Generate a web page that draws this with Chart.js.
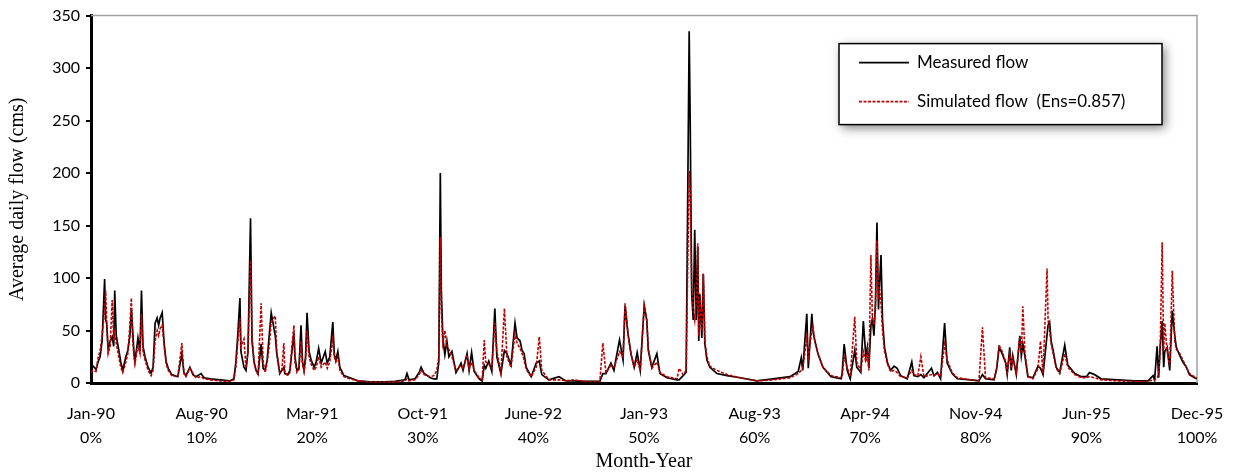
<!DOCTYPE html>
<html>
<head>
<meta charset="utf-8">
<title>Average daily flow</title>
<script src="https://cdn.jsdelivr.net/npm/chart.js@4"></script>
<style>
    html, body { margin: 0; padding: 0; background: #fff; }
    #wrap { width: 1238px; height: 473px; }
</style>
</head>
<body>
<div id="wrap"><canvas id="flowChart" width="1238" height="473"></canvas></div>
<script>
// Record length in days (Jan 1990 - Dec 1995)
const recordDays = 2191;

// Axis labels
const tickDates = ['Jan-90', 'Aug-90', 'Mar-91', 'Oct-91', 'June-92', 'Jan-93', 'Aug-93', 'Apr-94', 'Nov-94', 'Jun-95', 'Dec-95'];
const tickPercents = ['0%', '10%', '20%', '30%', '40%', '50%', '60%', '70%', '80%', '90%', '100%'];

// Day of record for each reading
const days = [
    0, 4, 10, 14, 18, 22, 27, 29, 31, 34, 38, 42, 45, 47, 50, 53, 59, 63, 69, 73,
    77, 80, 82, 85, 87, 91, 93, 97, 100, 103, 107, 113, 119, 123, 127, 131, 134, 137, 141, 145,
    149, 153, 160, 172, 180, 184, 188, 196, 202, 208, 218, 224, 236, 256, 275, 283, 287, 291, 295, 297,
    303, 307, 311, 316, 319, 323, 327, 331, 337, 341, 345, 349, 353, 357, 365, 368, 374, 378, 382, 384,
    390, 394, 398, 402, 404, 408, 412, 416, 419, 422, 425, 428, 432, 436, 442, 446, 451, 456, 464, 468,
    473, 479, 482, 485, 489, 493, 501, 513, 529, 553, 582, 602, 622, 626, 630, 642, 650, 654, 660, 672,
    679, 685, 689, 692, 694, 697, 701, 705, 709, 715, 723, 729, 733, 737, 745, 749, 754, 759, 769, 775,
    779, 782, 788, 794, 800, 804, 812, 819, 824, 832, 840, 844, 850, 854, 858, 862, 872, 882, 888, 893,
    907, 927, 941, 955, 979, 1008, 1014, 1020, 1030, 1036, 1040, 1047, 1054, 1058, 1064, 1070, 1076, 1082, 1088, 1096,
    1101, 1104, 1111, 1121, 1127, 1141, 1161, 1165, 1173, 1179, 1185, 1187, 1190, 1193, 1196, 1199, 1202, 1204, 1206, 1210,
    1213, 1216, 1220, 1226, 1240, 1260, 1286, 1319, 1351, 1385, 1401, 1407, 1410, 1418, 1421, 1428, 1430, 1434, 1440, 1450,
    1466, 1486, 1488, 1492, 1498, 1504, 1513, 1517, 1525, 1530, 1535, 1538, 1541, 1545, 1548, 1551, 1554, 1557, 1560, 1562,
    1565, 1568, 1572, 1578, 1584, 1591, 1597, 1604, 1617, 1626, 1630, 1638, 1644, 1650, 1665, 1670, 1677, 1683, 1691, 1696,
    1706, 1716, 1743, 1759, 1766, 1772, 1789, 1794, 1799, 1805, 1812, 1815, 1820, 1823, 1826, 1833, 1840, 1843, 1846, 1850,
    1856, 1866, 1876, 1881, 1886, 1894, 1896, 1899, 1902, 1906, 1912, 1919, 1929, 1935, 1949, 1962, 1972, 1978, 1988, 2001,
    2034, 2068, 2094, 2104, 2107, 2112, 2115, 2118, 2122, 2125, 2127, 2132, 2137, 2142, 2147, 2150, 2157, 2163, 2170, 2176,
    2186, 2191
];

// Measured flow (cms)
const measuredFlow = [
    18, 16, 13, 20, 25, 40, 99, 60, 57, 32, 40, 44, 35, 88, 45, 37, 20, 12, 25, 31,
    45, 71, 55, 30, 21, 35, 43, 30, 88, 35, 25, 15, 9.5, 15, 57, 62, 55, 62, 67, 37,
    20, 14, 8, 6, 28, 10, 7, 15, 8, 6, 9, 5, 4, 3, 2, 4, 20, 47, 81, 30,
    15, 12, 30, 157, 40, 20, 12, 9, 37, 14, 12, 22, 45, 67, 45, 28, 9, 12, 15, 9,
    8, 12, 30, 48, 25, 12, 14, 55, 20, 12, 25, 67, 30, 22, 15, 20, 33, 19, 30, 19,
    25, 58, 27, 22, 30, 15, 7, 5, 2, 1, 1, 1.5, 3, 9, 3, 4, 10, 15, 9, 5,
    4, 4, 20, 200, 88, 43, 27, 40, 25, 30, 10, 15, 19, 12, 28, 12, 29, 11, 4, 2,
    17, 14, 21, 11, 71, 25, 9, 31, 28, 17, 57, 43, 40, 31, 28, 15, 6, 19, 21, 8,
    3, 6, 2, 2, 1.5, 1.5, 9, 9, 19, 12, 23, 41, 22, 74, 46, 27, 15, 29, 12, 74,
    60, 31, 15, 28, 9, 5, 3, 3, 7, 10, 335, 250, 85, 60, 146, 60, 130, 40, 85, 43,
    104, 38, 22, 15, 9, 7, 5, 2, 4, 6, 11, 24, 12, 66, 14, 66, 50, 40, 28, 15,
    6, 4, 9, 37, 12, 4, 31, 15, 10, 59, 25, 34, 14, 55, 61, 45, 76, 153, 70, 93,
    122, 60, 34, 19, 12, 16, 14, 7, 4, 20, 7, 6, 8, 5, 14, 7, 10, 4, 57, 19,
    9, 4, 3, 2, 8, 4, 3, 13, 34, 28, 19, 8, 34, 12, 26, 8, 45, 26, 37, 26,
    6, 5, 16, 14, 8, 46, 55, 58, 40, 31, 15, 10, 36, 17, 9, 6, 6, 10, 8, 4,
    3, 2, 2, 7, 3, 35, 5, 34, 59, 15, 30, 34, 12, 69, 45, 34, 26, 20, 15, 8,
    5, 4
];

// Simulated flow (cms)
const simulatedFlow = [
    10, 12, 11, 24, 31, 45, 70, 88, 60, 28, 35, 79, 40, 47, 38, 30, 15, 10, 20, 28,
    55, 81, 45, 25, 18, 30, 35, 28, 66, 30, 22, 12, 7, 12, 40, 50, 45, 52, 55, 35,
    18, 12, 7, 6, 38, 9, 6, 14, 9, 5, 6, 4, 3, 2, 1.5, 3, 15, 40, 62, 35,
    42, 14, 30, 117, 45, 20, 11, 8, 76, 20, 10, 20, 35, 58, 64, 30, 10, 12, 38, 10,
    7, 10, 35, 55, 20, 10, 13, 40, 18, 11, 20, 50, 25, 18, 12, 15, 25, 15, 20, 14,
    20, 42, 25, 20, 25, 12, 6, 4, 2, 1, 1, 1, 2, 4, 2, 3, 8, 12, 8, 6,
    7, 12, 25, 139, 70, 38, 50, 35, 32, 25, 12, 15, 17, 14, 27, 13, 20, 12, 5, 3,
    41, 20, 18, 14, 57, 30, 10, 71, 25, 15, 47, 38, 33, 28, 22, 13, 6, 15, 44, 12,
    3, 3, 2, 3, 1.5, 1.5, 38, 10, 17, 15, 20, 30, 25, 76, 46, 27, 15, 22, 12, 73,
    60, 33, 14, 20, 10, 6, 4, 14, 8, 12, 202, 180, 90, 70, 60, 80, 133, 45, 80, 50,
    104, 40, 25, 16, 12, 8, 5, 2, 3, 5, 9, 12, 14, 43, 25, 50, 54, 40, 28, 15,
    7, 5, 6, 25, 15, 6, 63, 20, 12, 30, 20, 30, 12, 122, 60, 55, 70, 136, 80, 90,
    76, 50, 30, 18, 11, 12, 10, 6, 5, 12, 8, 7, 25, 6, 8, 7, 9, 6, 37, 22,
    10, 5, 3, 2, 53, 5, 4, 14, 36, 30, 20, 10, 28, 14, 24, 10, 43, 28, 73, 30,
    6, 4, 14, 40, 9, 109, 60, 50, 38, 28, 14, 9, 28, 15, 8, 5, 5, 6, 5, 3,
    2, 1.5, 1.5, 3, 3, 5, 8, 30, 134, 30, 57, 30, 16, 107, 40, 32, 28, 22, 15, 9,
    6, 5
];

const measuredPoints = days.map((d, i) => ({ x: d, y: measuredFlow[i] }));
const simulatedPoints = days.map((d, i) => ({ x: d, y: simulatedFlow[i] }));

const tickFont = { family: 'Lato', size: 16 };

// Plot frame: grey top and right edges
const plotFrame = {
    id: 'plotFrame',
    beforeDatasetsDraw(chart) {
        const { ctx, chartArea: a } = chart;
        ctx.save();
        ctx.strokeStyle = '#a0a0a0';
        ctx.lineWidth = 1.5;
        ctx.beginPath();
        ctx.moveTo(a.left, a.top);
        ctx.lineTo(a.right, a.top);
        ctx.lineTo(a.right, a.bottom);
        ctx.stroke();
        ctx.restore();
    }
};

// Legend box with drop shadow inside the plot area
const legendBox = {
    id: 'legendBox',
    afterDraw(chart) {
        const { ctx, chartArea: a } = chart;
        const x = a.right - 358, y = a.top + 28, w = 323, h = 81;
        ctx.save();
        ctx.shadowColor = 'rgba(0, 0, 0, 0.5)';
        ctx.shadowBlur = 10;
        ctx.shadowOffsetX = 3;
        ctx.shadowOffsetY = 3;
        ctx.fillStyle = '#fff';
        ctx.fillRect(x, y, w, h);
        ctx.restore();

        ctx.save();
        ctx.strokeStyle = '#000';
        ctx.lineWidth = 1.5;
        ctx.strokeRect(x, y, w, h);

        ctx.font = '17px Lato';
        ctx.fillStyle = '#000';
        ctx.textBaseline = 'middle';
        chart.data.datasets.forEach((ds, i) => {
            const rowY = y + 19 + i * 39;
            ctx.beginPath();
            ctx.strokeStyle = ds.borderColor;
            ctx.lineWidth = ds.borderWidth;
            ctx.setLineDash(ds.borderDash || []);
            ctx.moveTo(x + 20, rowY);
            ctx.lineTo(x + 70, rowY);
            ctx.stroke();
            ctx.setLineDash([]);
            ctx.fillText(ds.label, x + 78, rowY);
        });
        ctx.restore();
    }
};

new Chart(document.getElementById('flowChart'), {
    type: 'line',
    data: {
        datasets: [{
            label: 'Measured flow',
            data: measuredPoints,
            borderColor: '#000',
            borderWidth: 1.7,
            pointRadius: 0,
            tension: 0,
            order: 2
        }, {
            label: 'Simulated flow  (Ens=0.857)',
            data: simulatedPoints,
            borderColor: '#c00000',
            borderWidth: 1.6,
            borderDash: [3, 1.5],
            pointRadius: 0,
            tension: 0,
            order: 1
        }]
    },
    options: {
        responsive: false,
        animation: false,
        layout: {
            padding: { top: 14, right: 41, left: 0, bottom: 0 }
        },
        plugins: {
            legend: { display: false },
            tooltip: { enabled: false }
        },
        scales: {
            x: {
                type: 'linear',
                min: 0,
                max: recordDays,
                afterBuildTicks: function (scale) {
                    scale.ticks = tickDates.map((t, i) => ({ value: i * recordDays / 10 }));
                },
                afterFit: function (scale) {
                    scale.height = 90;
                },
                grid: { display: false },
                border: { color: '#000', width: 3 },
                ticks: {
                    autoSkip: false,
                    maxRotation: 0,
                    padding: 10,
                    color: '#000',
                    font: { family: 'Lato', size: 16, lineHeight: 1.55 },
                    callback: function (value, index) {
                        return [tickDates[index], tickPercents[index]];
                    }
                },
                title: {
                    display: true,
                    text: 'Month-Year',
                    color: '#000',
                    font: { family: 'Liberation Serif', size: 20, lineHeight: 1.1 },
                    padding: { top: 0, bottom: 0 }
                }
            },
            y: {
                min: 0,
                max: 350,
                afterFit: function (scale) {
                    scale.width = 91;
                },
                grid: {
                    drawOnChartArea: false,
                    tickLength: 5,
                    color: '#000',
                    lineWidth: 2
                },
                border: { color: '#000', width: 3 },
                ticks: {
                    stepSize: 50,
                    padding: 6,
                    color: '#000',
                    font: tickFont
                },
                title: {
                    display: true,
                    text: 'Average daily flow (cms)',
                    color: '#000',
                    font: { family: 'Liberation Serif', size: 20, lineHeight: 1.1 },
                    padding: { top: 7, bottom: 0 }
                }
            }
        }
    },
    plugins: [plotFrame, legendBox]
});
</script>
</body>
</html>
